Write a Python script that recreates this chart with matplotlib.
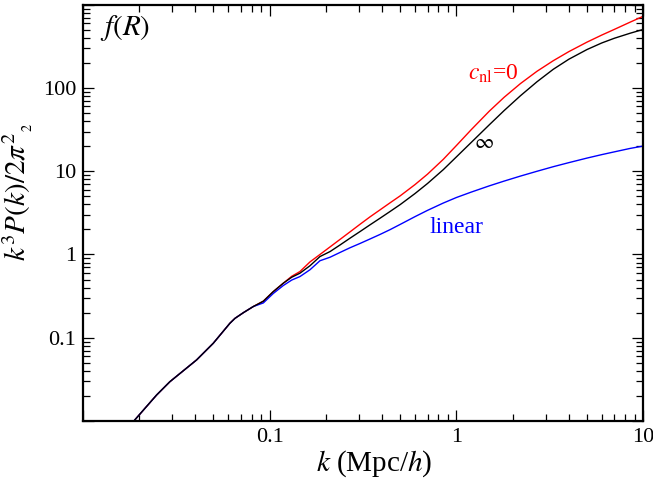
import matplotlib
matplotlib.use("Agg")
import matplotlib.pyplot as plt
from matplotlib.ticker import FixedLocator, LogLocator, NullFormatter, FixedFormatter

plt.rcParams["font.family"] = "serif"
plt.rcParams["font.serif"] = ["Liberation Serif", "DejaVu Serif"]
plt.rcParams["mathtext.fontset"] = "stix"

# wavenumbers k (Mpc/h)
k = [0.0186, 0.0248, 0.0292, 0.0406, 0.0499, 0.0612, 0.0652, 0.0723, 0.0817, 0.0925,
     0.1045, 0.1183, 0.1312, 0.1452, 0.1644, 0.1858, 0.2104, 0.2382, 0.2692, 0.3048,
     0.3443, 0.3899, 0.4406, 0.5, 0.6, 0.7, 0.85, 1.0, 1.2, 1.5,
     1.8, 2.2, 2.7, 3.3, 4.0, 5.0, 6.0, 7.0, 8.5, 10.0]

# dimensionless power k^3 P(k) / 2 pi^2, c_nl -> infinity
p_inf = [0.0098, 0.0205, 0.0296, 0.0541, 0.0859, 0.149, 0.171, 0.200, 0.237, 0.275,
         0.358, 0.452, 0.533, 0.596, 0.733, 0.944, 1.084, 1.303, 1.570, 1.888,
         2.270, 2.729, 3.281, 3.98, 5.40, 7.13, 10.45, 14.9, 22.2, 36.2,
         53.6, 80.7, 119.0, 168.0, 222.0, 290.0, 348.0, 396.0, 455.0, 506.0]

# c_nl = 0
p_cnl0 = [0.0098, 0.0205, 0.0296, 0.0541, 0.0859, 0.149, 0.171, 0.200, 0.237, 0.275,
          0.358, 0.452, 0.547, 0.624, 0.815, 1.00, 1.233, 1.52, 1.87, 2.31,
          2.83, 3.44, 4.17, 5.07, 6.92, 9.23, 13.9, 20.4, 31.6, 52.8,
          77.4, 113.0, 159.0, 213.0, 274.0, 356.0, 433.0, 506.0, 618.0, 728.0]

# linear theory
p_lin = [0.0098, 0.0205, 0.0296, 0.0541, 0.0859, 0.149, 0.171, 0.200, 0.237, 0.262,
         0.340, 0.424, 0.493, 0.543, 0.656, 0.841, 0.927, 1.059, 1.205, 1.358,
         1.535, 1.742, 1.986, 2.30, 2.85, 3.39, 4.15, 4.84, 5.62, 6.68,
         7.62, 8.75, 10.0, 11.35, 12.7, 14.4, 15.85, 17.1, 18.8, 20.1]

fig = plt.figure(figsize=(6.53, 4.80), dpi=100)
ax = fig.add_axes([0.127, 0.123, 0.858, 0.867])

lw = 1.0
ax.plot(k, p_cnl0, color="#ff0000", lw=lw)
ax.plot(k, p_lin, color="#0000ff", lw=lw)
ax.plot(k, p_inf, color="black", lw=lw)

ax.set_xscale("log")
ax.set_yscale("log")
ax.set_xlim(0.01, 10)
ax.set_ylim(0.01, 1000)

ax.xaxis.set_major_locator(FixedLocator([0.01, 0.1, 1, 10]))
ax.xaxis.set_major_formatter(FixedFormatter(["", "0.1", "1", "10"]))
ax.yaxis.set_major_locator(FixedLocator([0.01, 0.1, 1, 10, 100, 1000]))
ax.yaxis.set_major_formatter(FixedFormatter(["", "0.1", "1", "10", "100", ""]))
for axis in (ax.xaxis, ax.yaxis):
    axis.set_minor_locator(LogLocator(base=10, subs=range(2, 10), numticks=20))
    axis.set_minor_formatter(NullFormatter())

ax.tick_params(which="both", direction="in", top=True, right=True,
               labelsize=16, width=0.9, pad=5)
ax.tick_params(which="major", length=8)
ax.tick_params(which="minor", length=5)
for s in ax.spines.values():
    s.set_linewidth(1.6)

ax.set_xlabel(r"$k$ (Mpc/$h$)", fontsize=21, labelpad=0)
ax.xaxis.set_label_coords(0.52, -0.065)
ax.set_ylabel(r"$k^3P(k)/2\pi^{2}{}_{{}_{2}}$", fontsize=21, labelpad=4)
ax.yaxis.set_label_coords(-0.085, 0.55)

ax.text(0.03, 0.98, r"$f(R)$", transform=ax.transAxes, fontsize=21,
        ha="left", va="top")
ax.text(1.16, 125, r"$c_{\rm nl}$=0", color="#ff0000", fontsize=17,
        ha="left", va="baseline")
ax.text(1.41, 21.3, r"$\infty$", color="black", fontsize=15,
        ha="center", va="center")
ax.text(1.0, 2.09, "linear", color="#0000ff", fontsize=17,
        ha="center", va="center")

fig.savefig("out.png", dpi=100)
